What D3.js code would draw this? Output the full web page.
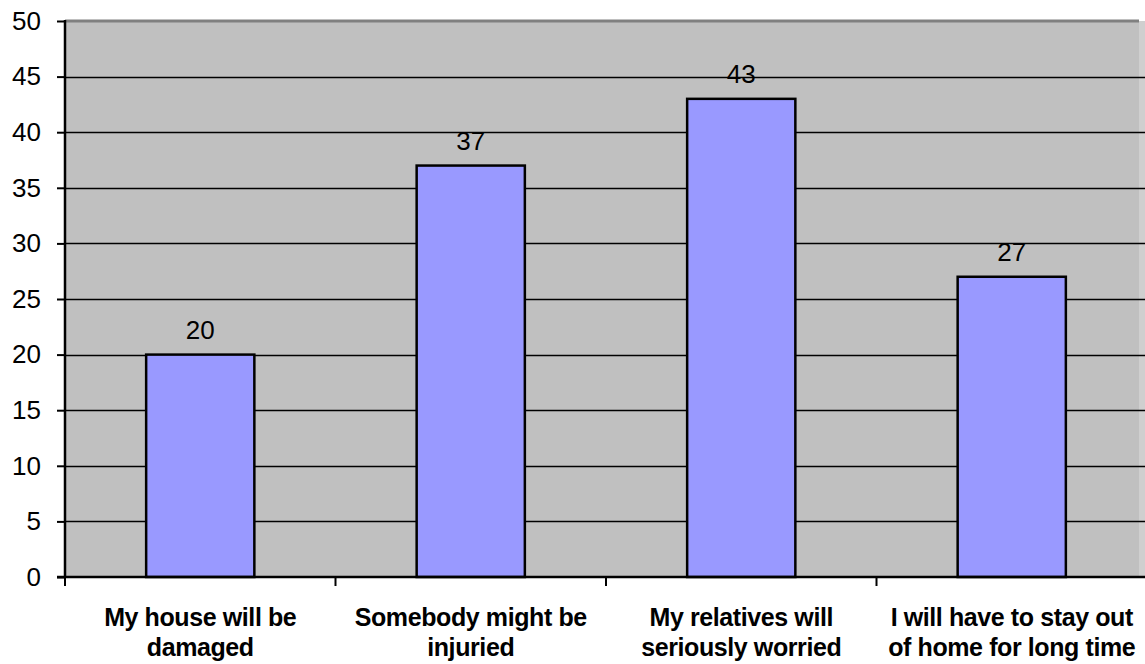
<!DOCTYPE html>
<html>
<head>
<meta charset="utf-8">
<script src="https://cdn.jsdelivr.net/npm/d3@7"></script>
<style>
  html, body { margin: 0; padding: 0; background: #fff; }
  svg { display: block; }
  text { font-family: "Liberation Sans", Arial, sans-serif; fill: #000; }
</style>
</head>
<body>
<svg id="chart" width="1145" height="664"></svg>
<script>
// Survey answers: share of respondents (%) per concern
const categories = [
  ["My house will be", "damaged"],
  ["Somebody might be", "injuried"],
  ["My relatives will", "seriously worried"],
  ["I will have to stay out", "of home for long time"]
];
const values = [20, 37, 43, 27];
const yTicks = [0, 5, 10, 15, 20, 25, 30, 35, 40, 45, 50];

const svg = d3.select("#chart");
const W = 1145;
const plotLeft = 65, plotTop = 21, plotBottom = 577, bandRight = 1147, plotRight = 1139;

const x = d3.scaleBand()
  .domain(d3.range(categories.length))
  .range([plotLeft, bandRight])
  .paddingInner(0.6)
  .paddingOuter(0.3);

const y = d3.scaleLinear().domain([0, 50]).range([plotBottom, plotTop]);

// plot background
svg.append("rect")
  .attr("x", plotLeft).attr("y", plotTop)
  .attr("width", plotRight - plotLeft).attr("height", plotBottom - plotTop)
  .attr("fill", "#c0c0c0");
svg.append("rect")
  .attr("x", plotRight).attr("y", plotTop)
  .attr("width", W - plotRight).attr("height", plotBottom - plotTop)
  .attr("fill", "#cfcfcf");

// horizontal gridlines
svg.append("g")
  .selectAll("line")
  .data(yTicks.filter(d => d > 0 && d < 50))
  .join("line")
  .attr("x1", plotLeft).attr("x2", W)
  .attr("y1", d => Math.round(y(d)) + 0.5).attr("y2", d => Math.round(y(d)) + 0.5)
  .attr("stroke", "#000").attr("stroke-width", 1.3);

// top border of plot area
svg.append("line")
  .attr("x1", plotLeft).attr("x2", plotRight)
  .attr("y1", plotTop).attr("y2", plotTop)
  .attr("stroke", "#808080").attr("stroke-width", 3);

// bars
svg.append("g")
  .selectAll("rect")
  .data(values)
  .join("rect")
  .attr("x", (d, i) => x(i))
  .attr("y", d => y(d))
  .attr("width", x.bandwidth())
  .attr("height", d => y(0) - y(d))
  .attr("fill", "#9999ff")
  .attr("stroke", "#000")
  .attr("stroke-width", 2.5);

// value labels
svg.append("g")
  .selectAll("text")
  .data(values)
  .join("text")
  .attr("x", (d, i) => x(i) + x.bandwidth() / 2)
  .attr("y", d => y(d) - 16)
  .attr("text-anchor", "middle")
  .attr("font-size", 26)
  .text(d => d);

// y axis
const yAxis = d3.axisLeft(y).tickValues(yTicks).tickSize(8).tickPadding(16);
const gy = svg.append("g").attr("transform", `translate(${plotLeft},0)`).call(yAxis);
gy.select(".domain").attr("stroke", "#000").attr("stroke-width", 2.5)
  .attr("d", `M0,${plotTop - 1}V${plotBottom + 1}`);
gy.selectAll(".tick line").attr("stroke", "#000").attr("stroke-width", 2);
gy.selectAll(".tick text")
  .attr("font-size", 26)
  .attr("font-family", "'Liberation Sans', Arial, sans-serif")
  .attr("fill", "#000");

// x axis baseline and category boundary ticks
svg.append("line")
  .attr("x1", plotLeft - 8).attr("x2", W)
  .attr("y1", plotBottom).attr("y2", plotBottom)
  .attr("stroke", "#000").attr("stroke-width", 2.5);
const bandEdge = i => plotLeft + i * x.step();
svg.append("g")
  .selectAll("line")
  .data(d3.range(categories.length))
  .join("line")
  .attr("x1", bandEdge).attr("x2", bandEdge)
  .attr("y1", plotBottom).attr("y2", plotBottom + 9)
  .attr("stroke", "#000").attr("stroke-width", 2);

// category labels
const cat = svg.append("g")
  .selectAll("text")
  .data(categories)
  .join("text")
  .attr("text-anchor", "middle")
  .attr("font-size", 25)
  .attr("font-weight", "bold")
  .attr("letter-spacing", -0.4)
  .attr("transform", (d, i) => `translate(${x(i) + x.bandwidth() / 2},0)`);
cat.selectAll("tspan")
  .data(d => d)
  .join("tspan")
  .attr("x", 0)
  .attr("y", (d, j) => 626 + j * 30)
  .text(d => d);
</script>
</body>
</html>
